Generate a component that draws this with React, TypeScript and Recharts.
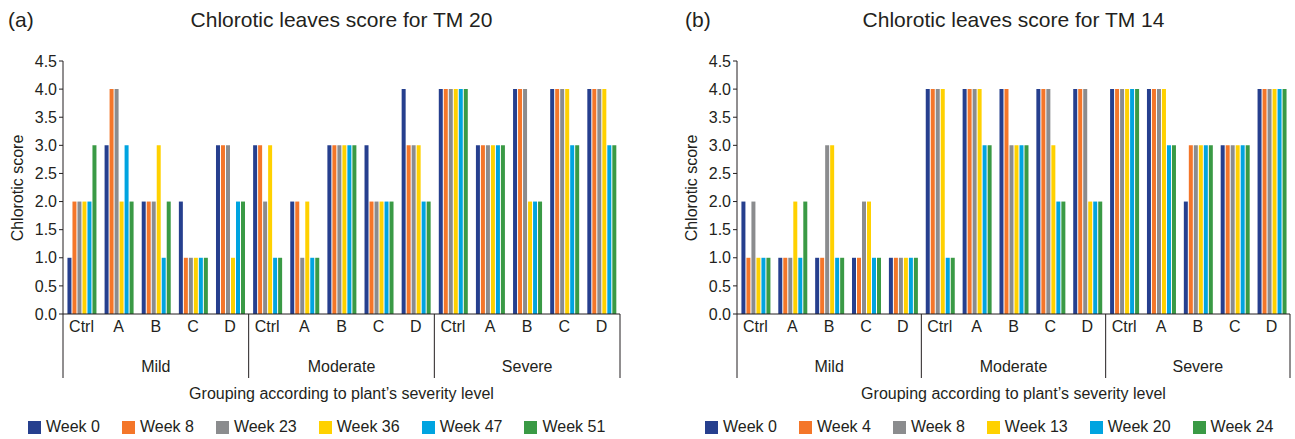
import React from 'react';
import { BarChart, Bar, XAxis, YAxis } from 'recharts';

const groups = ['Mild', 'Moderate', 'Severe'];
const treatments = ['Ctrl', 'A', 'B', 'C', 'D'];
const yTicks = [0, 0.5, 1, 1.5, 2, 2.5, 3, 3.5, 4, 4.5];
const colors = ['#263f8e', '#f47629', '#8b8c8e', '#ffd100', '#00a4e0', '#3a9a45'];

// TM 20 — one array per week, 15 values: Mild(Ctrl,A..D), Moderate(...), Severe(...)
const tm20Weeks = ['Week 0', 'Week 8', 'Week 23', 'Week 36', 'Week 47', 'Week 51'];
const tm20Week0 = [1, 3, 2, 2, 3, 3, 2, 3, 3, 4, 4, 3, 4, 4, 4];
const tm20Week8 = [2, 4, 2, 1, 3, 3, 2, 3, 2, 3, 4, 3, 4, 4, 4];
const tm20Week23 = [2, 4, 2, 1, 3, 2, 1, 3, 2, 3, 4, 3, 4, 4, 4];
const tm20Week36 = [2, 2, 3, 1, 1, 3, 2, 3, 2, 3, 4, 3, 2, 4, 4];
const tm20Week47 = [2, 3, 1, 1, 2, 1, 1, 3, 2, 2, 4, 3, 2, 3, 3];
const tm20Week51 = [3, 2, 2, 1, 2, 1, 1, 3, 2, 2, 4, 3, 2, 3, 3];

// TM 14
const tm14Weeks = ['Week 0', 'Week 4', 'Week 8', 'Week 13', 'Week 20', 'Week 24'];
const tm14Week0 = [2, 1, 1, 1, 1, 4, 4, 4, 4, 4, 4, 4, 2, 3, 4];
const tm14Week4 = [1, 1, 1, 1, 1, 4, 4, 4, 4, 4, 4, 4, 3, 3, 4];
const tm14Week8 = [2, 1, 3, 2, 1, 4, 4, 3, 4, 4, 4, 4, 3, 3, 4];
const tm14Week13 = [1, 2, 3, 2, 1, 4, 4, 3, 3, 2, 4, 4, 3, 3, 4];
const tm14Week20 = [1, 1, 1, 1, 1, 1, 3, 3, 2, 2, 4, 3, 3, 3, 4];
const tm14Week24 = [1, 2, 1, 1, 1, 1, 3, 3, 2, 2, 4, 3, 3, 3, 4];

const FONT = '"Liberation Sans", Arial, Helvetica, sans-serif';
const INK = '#231f20';
const FS = 16;

const buildRows = (series: number[][]) =>
  groups.flatMap((g, gi) =>
    treatments.map((t, ti) => {
      const i = gi * treatments.length + ti;
      const row: Record<string, any> = { key: `${g}-${t}`, label: t, group: g };
      series.forEach((s, si) => (row[`w${si}`] = s[i]));
      return row;
    })
  );

const CHART_H = 439;
const Y_AXIS_W = 40;
const PLOT_TOP = 61;
const PLOT_BOTTOM = 314;

function GroupTick(props: any) {
  const { x, y, index, band } = props;
  const label = treatments[index % treatments.length];
  const half = band / 2;
  const pos = index % treatments.length;
  return (
    <g>
      <text x={x} y={y + 18} textAnchor="middle" fontSize={FS} fill={INK} fontFamily={FONT}>
        {label}
      </text>
      {index === 0 && (
        <line x1={x - half} x2={x - half} y1={y} y2={y + 64} stroke={INK} strokeWidth={1} />
      )}
      {pos === treatments.length - 1 && (
        <line x1={x + half} x2={x + half} y1={y} y2={y + 64} stroke={INK} strokeWidth={1} />
      )}
      {pos === 2 && (
        <text x={x} y={y + 58} textAnchor="middle" fontSize={FS} fill={INK} fontFamily={FONT}>
          {groups[Math.floor(index / treatments.length)]}
        </text>
      )}
    </g>
  );
}

interface PanelProps {
  tag: string;
  tagLeft: number;
  title: string;
  weeks: string[];
  series: number[][];
  left: number;
  width: number;
  plotLeft: number;
  plotRight: number;
  yLabelX: number;
  legendLeft: number;
}

function Panel(p: PanelProps) {
  const { tag, tagLeft, title, weeks, series, left, width, plotLeft, plotRight, yLabelX, legendLeft } = p;
  const rows = buildRows(series);
  const plotW = plotRight - plotLeft;
  const band = plotW / rows.length;
  const mid = (plotLeft + plotRight) / 2;
  return (
    <div style={{ position: 'absolute', left, top: 0, width, height: CHART_H, fontFamily: FONT, color: INK }}>
      <div style={{ position: 'absolute', left: tagLeft, top: 8, fontSize: 21, lineHeight: '24px' }}>{tag}</div>
      <div
        style={{
          position: 'absolute',
          left: mid - 250,
          width: 500,
          top: 8,
          textAlign: 'center',
          fontSize: 21,
          lineHeight: '24px',
        }}
      >
        {title}
      </div>
      <div
        style={{
          position: 'absolute',
          left: yLabelX - 80,
          top: 188 - 10,
          width: 160,
          height: 20,
          lineHeight: '20px',
          textAlign: 'center',
          fontSize: FS,
          transform: 'rotate(-90deg)',
        }}
      >
        Chlorotic score
      </div>
      <BarChart
        width={width}
        height={CHART_H}
        data={rows}
        margin={{ top: PLOT_TOP, right: width - plotRight, left: plotLeft - Y_AXIS_W, bottom: CHART_H - PLOT_BOTTOM - 30 }}
        barGap={1}
        barCategoryGap="12%"
      >
        <XAxis
          dataKey="key"
          interval={0}
          height={30}
          tickSize={0}
          tickMargin={0}
          tickLine={false}
          axisLine={{ stroke: INK }}
          tick={<GroupTick band={band} />}
        />
        <YAxis
          width={Y_AXIS_W}
          domain={[0, 4.5]}
          ticks={yTicks}
          interval={0}
          tickSize={4}
          tickMargin={2}
          axisLine={{ stroke: INK }}
          tickLine={{ stroke: INK }}
          tick={{ fontSize: FS, fill: INK, fontFamily: FONT }}
          tickFormatter={(v: number) => v.toFixed(1)}
        />
        {weeks.map((w, i) => (
          <Bar key={w} dataKey={`w${i}`} name={w} fill={colors[i]} isAnimationActive={false} />
        ))}
      </BarChart>
      <div
        style={{
          position: 'absolute',
          left: mid - 250,
          width: 500,
          top: 384,
          textAlign: 'center',
          fontSize: FS,
          lineHeight: '20px',
        }}
      >
        Grouping according to plant’s severity level
      </div>
      <div
        style={{
          position: 'absolute',
          left: legendLeft,
          top: 417,
          display: 'flex',
          gap: 22,
          fontSize: FS,
          lineHeight: '20px',
          whiteSpace: 'nowrap',
        }}
      >
        {weeks.map((w, i) => (
          <div key={w} style={{ display: 'flex', alignItems: 'center' }}>
            <span style={{ display: 'inline-block', width: 13, height: 13, background: colors[i], marginRight: 5 }} />
            {w}
          </div>
        ))}
      </div>
    </div>
  );
}

export default function App() {
  return (
    <div style={{ position: 'absolute', left: 0, top: 0, width: 1295, height: 439, background: '#fff' }}>
      <Panel
        tag="(a)"
        tagLeft={8}
        title="Chlorotic leaves score for TM 20"
        weeks={tm20Weeks}
        series={[tm20Week0, tm20Week8, tm20Week23, tm20Week36, tm20Week47, tm20Week51]}
        left={0}
        width={647}
        plotLeft={63}
        plotRight={620}
        yLabelX={18}
        legendLeft={28}
      />
      <Panel
        tag="(b)"
        tagLeft={38}
        title="Chlorotic leaves score for TM 14"
        weeks={tm14Weeks}
        series={[tm14Week0, tm14Week4, tm14Week8, tm14Week13, tm14Week20, tm14Week24]}
        left={647}
        width={648}
        plotLeft={90}
        plotRight={643}
        yLabelX={45}
        legendLeft={58}
      />
    </div>
  );
}
